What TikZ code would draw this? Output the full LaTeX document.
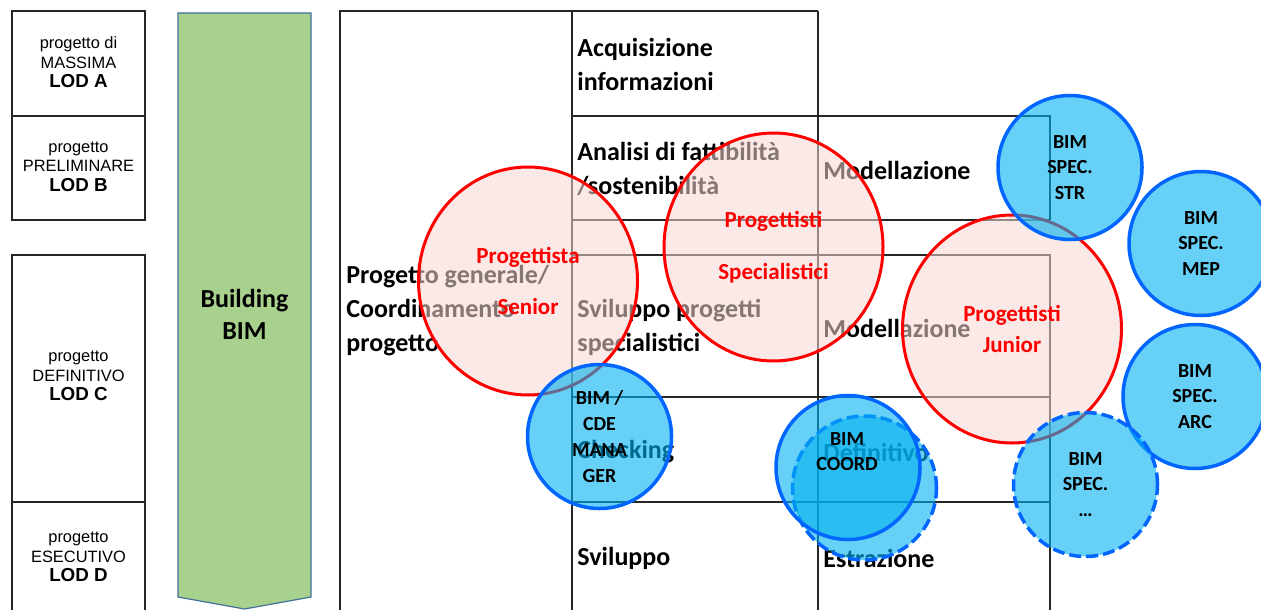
\documentclass[tikz,border=0pt]{standalone}
\usepackage{fontspec}
\setmainfont{Carlito}
\newfontfamily\lodfont{Liberation Sans}
\usetikzlibrary{shapes.geometric}

\definecolor{rulegray}{RGB}{38,38,38}
\definecolor{arrowfill}{RGB}{169,209,142}
\definecolor{arrowedge}{RGB}{65,113,156}
\definecolor{rolepink}{RGB}{245,215,210}
\definecolor{rolered}{RGB}{255,0,0}
\definecolor{bimfill}{RGB}{0,176,240}
\definecolor{bimedge}{RGB}{0,102,255}

\begin{document}
\begin{tikzpicture}[x=0.5pt,y=-0.5pt,
  rule/.style={draw=rulegray,line width=1pt},
  lodtext/.style={align=center,inner sep=0pt,
    font=\lodfont\fontsize{8.2}{9.8}\selectfont},
  celltext/.style={anchor=west,align=left,inner sep=0pt,
    font=\bfseries\fontsize{13}{17}\selectfont},
  role/.style={ellipse,draw=rolered,line width=1.5pt,fill=rolepink,
    fill opacity=0.55,text opacity=1,text=rolered,inner sep=0pt,
    minimum width=109.5pt,minimum height=114pt,align=center},
  bim/.style={circle,draw=bimedge,line width=1.75pt,fill=bimfill,
    fill opacity=0.6,text opacity=1,text=black,inner sep=0pt,
    minimum size=72pt,align=center,
    font=\bfseries\fontsize{10}{12.9}\selectfont},
  bimdash/.style={bim,dash pattern=on 6pt off 2.5pt},
]
\useasboundingbox (0,0) rectangle (1261,610);
\clip (0,0) rectangle (1261,610);

% LOD boxes on the left
\draw[rule] (12,610) -- (12,502) -- (145,502) -- (145,610);
\draw[rule] (12,11) rectangle (145,116);
\draw[rule] (12,116) rectangle (145,220);
\draw[rule] (12,255) rectangle (145,502);
\node[lodtext] (lodA) at (78.5,62.5) {progetto di\\MASSIMA\\{\bfseries\fontsize{9.4}{9.8}\selectfont LOD A}};
\node[lodtext] (lodB) at (78.5,166.5) {progetto\\PRELIMINARE\\{\bfseries\fontsize{9.4}{9.8}\selectfont LOD B}};
\node[lodtext] (lodC) at (78.5,376) {progetto\\DEFINITIVO\\{\bfseries\fontsize{9.4}{9.8}\selectfont LOD C}};
\node[lodtext] (lodD) at (78.5,557) {progetto\\ESECUTIVO\\{\bfseries\fontsize{9.4}{9.8}\selectfont LOD D}};

% Building BIM arrow
\draw[fill=arrowfill,draw=arrowedge,line width=0.6pt]
  (178,13) -- (311,13) -- (311,597) -- (244.5,609) -- (178,597) -- cycle;
\node[align=center,inner sep=0pt,font=\bfseries\fontsize{13}{16}\selectfont]
  (building) at (244.5,314) {Building\\BIM};

% process table
\draw[rule] (340,610) -- (340,11) -- (818,11);
\draw[rule] (572,11) -- (572,610);
\draw[rule] (818,11) -- (818,610);
\draw[rule] (572,116) -- (1050,116) -- (1050,220);
\draw[rule] (572,220) -- (1050,220);
\draw[rule] (572,255) -- (1050,255) -- (1050,610);
\draw[rule] (572,397) -- (1050,397);
\draw[rule] (572,502) -- (1050,502);

\node[celltext] (gen) at (346,311) {Progetto generale/\\Coordinamento\\progetto};
\node[celltext] (acq) at (577,64) {Acquisizione\\informazioni};
\node[celltext] (ana) at (577,169) {Analisi di fattibilit\`a\\/sostenibilit\`a};
\node[celltext] (svp) at (577,327) {Sviluppo progetti\\specialistici};
\node[celltext] (chk) at (577,452) {Checking};
\node[celltext] (svl) at (577,558) {Sviluppo};
\node[celltext] (mod1) at (823,170) {Modellazione};
\node[celltext] (mod2) at (823,328) {Modellazione};
\node[celltext] (def) at (823,452) {Definitivo};
\node[celltext] (est) at (823,558) {Estrazione};

% design roles
\node[role,font=\bfseries\fontsize{11.5}{25.5}\selectfont] (senior) at (528,281) {Progettista\\Senior};
\node[role,font=\bfseries\fontsize{11.5}{26}\selectfont] (spec) at (773.5,247) {Progettisti\\Specialistici};
\node[role,font=\bfseries\fontsize{11.5}{15.5}\selectfont] (junior) at (1012,329) {Progettisti\\Junior};

% BIM roles
\node[bim] (cde) at (599.5,436.5) {BIM /\\CDE\\MANA\\GER};
\node[bim] (str) at (1070,167.5) {BIM\\SPEC.\\STR};
\node[bim] (mep) at (1201,243.5) {BIM\\SPEC.\\MEP};
\node[bim] (arc) at (1195,396.5) {BIM\\SPEC.\\ARC};
\node[bimdash] (other) at (1085.5,484.5) {BIM\\SPEC.\\\dots};
\node[bimdash] (coordb) at (864.5,488) {};
\node[bim] (coord) at (848,467.5) {};
\node[align=center,inner sep=0pt,font=\bfseries\fontsize{10}{12.5}\selectfont]
  (coordtxt) at (847,451.5) {BIM\\COORD};
\end{tikzpicture}
\end{document}
